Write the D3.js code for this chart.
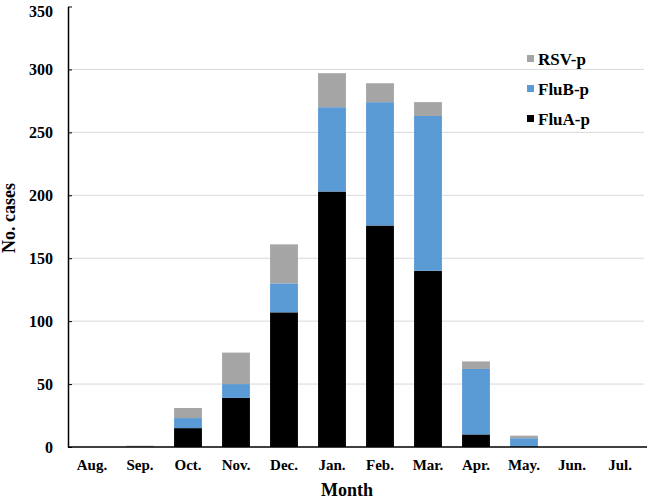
<!DOCTYPE html>
<html>
<head>
<meta charset="utf-8">
<script src="https://cdn.jsdelivr.net/npm/d3@7"></script>
<style>
  body { margin: 0; background: #fff; }
  text { font-family: "Liberation Serif", "Times New Roman", serif; font-weight: bold; fill: #000; }
</style>
</head>
<body>
<script>
// month categories and case counts per series
var months = ["Aug.", "Sep.", "Oct.", "Nov.", "Dec.", "Jan.", "Feb.", "Mar.", "Apr.", "May.", "Jun.", "Jul."];
var fluA = [0, 0, 15, 39, 107, 203, 176, 140, 10, 0, 0, 0];
var fluB = [0, 0, 8, 11, 23, 67, 98, 123, 52, 7, 0, 0];
var rsv  = [0, 1, 8, 25, 31, 27, 15, 11, 6, 2, 0, 0];
var yTicks = [0, 50, 100, 150, 200, 250, 300, 350];

var seriesNames = ["FluA-p", "FluB-p", "RSV-p"];
var colors = { "FluA-p": "#000000", "FluB-p": "#5b9bd5", "RSV-p": "#a5a5a5" };

var width = 647, height = 500;

var x = d3.scaleBand().domain(months).range([68, 644]).paddingInner(0.42).paddingOuter(0.21);
var y = d3.scaleLinear().domain([0, 350]).range([447, 6.5]);

var svg = d3.select("body").append("svg")
    .attr("width", width)
    .attr("height", height);

// build table for the stack
var table = months.map(function(m, i) {
  return { month: m, "FluA-p": fluA[i], "FluB-p": fluB[i], "RSV-p": rsv[i] };
});
var stacked = d3.stack().keys(seriesNames)(table);

// gridlines
svg.append("g")
  .selectAll("line")
  .data(yTicks.filter(function(d) { return d > 0 && d < 350; }))
  .enter().append("line")
    .attr("x1", 68).attr("x2", 644)
    .attr("y1", function(d) { return y(d); })
    .attr("y2", function(d) { return y(d); })
    .attr("stroke", "#d9d9d9")
    .attr("stroke-width", 1);

// bars
svg.append("g")
  .selectAll("g")
  .data(stacked)
  .enter().append("g")
    .attr("fill", function(d) { return colors[d.key]; })
  .selectAll("rect")
  .data(function(d) { return d; })
  .enter().append("rect")
    .attr("x", function(d) { return x(d.data.month); })
    .attr("width", x.bandwidth())
    .attr("y", function(d) { return y(d[1]); })
    .attr("height", function(d) { return y(d[0]) - y(d[1]); });

// y axis
var yAxis = svg.append("g")
    .attr("transform", "translate(68,0)")
    .call(d3.axisLeft(y).tickValues(yTicks).tickSizeInner(-4).tickSizeOuter(0).tickPadding(15));
yAxis.selectAll("text").style("font-size", "16px");
// keep the top label inside the page
yAxis.selectAll("text").filter(function(d) { return d === 350; }).attr("dy", "0.6em");
yAxis.select(".domain").attr("stroke", "#000").attr("stroke-width", 1.5);

// x axis
var xAxis = svg.append("g")
    .attr("transform", "translate(0,447)")
    .call(d3.axisBottom(x).tickSize(0).tickPadding(12));
xAxis.select(".domain").attr("d", "M68,0H647").attr("stroke", "#000").attr("stroke-width", 1.5);
xAxis.selectAll("text").style("font-size", "15px");

// axis titles
svg.append("text")
    .attr("x", 347).attr("y", 496)
    .attr("text-anchor", "middle")
    .style("font-size", "18px")
    .text("Month");

svg.append("text")
    .attr("transform", "translate(15,218) rotate(-90)")
    .attr("text-anchor", "middle")
    .style("font-size", "18px")
    .text("No. cases");

// legend
var legendItems = ["RSV-p", "FluB-p", "FluA-p"];
var legend = svg.append("g").selectAll("g")
  .data(legendItems)
  .enter().append("g")
    .attr("transform", function(d, i) { return "translate(527," + (59 + i * 30) + ")"; });
legend.append("rect")
    .attr("x", 0).attr("y", -4)
    .attr("width", 7).attr("height", 7)
    .attr("fill", function(d) { return colors[d]; });
legend.append("text")
    .attr("x", 11).attr("y", 5.5)
    .style("font-size", "17px")
    .text(function(d) { return d; });
</script>
</body>
</html>
